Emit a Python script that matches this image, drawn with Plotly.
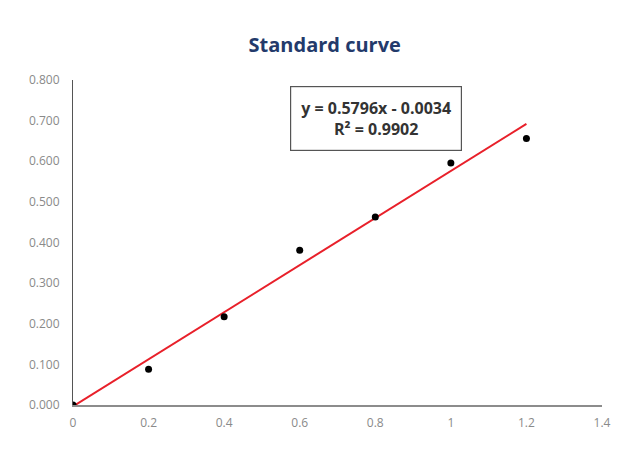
import plotly.graph_objects as go

concentration = [0, 0.2, 0.4, 0.6, 0.8, 1.0, 1.2]
absorbance = [0.000, 0.088, 0.217, 0.381, 0.463, 0.596, 0.656]
slope = 0.5796
intercept = -0.0034
x_ticks = [0, 0.2, 0.4, 0.6, 0.8, 1.0, 1.2, 1.4]
x_tick_labels = ["0", "0.2", "0.4", "0.6", "0.8", "1", "1.2", "1.4"]
y_ticks = [0, 0.1, 0.2, 0.3, 0.4, 0.5, 0.6, 0.7, 0.8]
y_tick_labels = ["0.000", "0.100", "0.200", "0.300", "0.400", "0.500", "0.600", "0.700", "0.800"]

fit_x = [concentration[0], concentration[-1]]
fit_y = [slope * v + intercept for v in fit_x]

fig = go.Figure()
fig.add_trace(go.Scatter(x=fit_x, y=fit_y, mode="lines",
                         line=dict(color="#E8202A", width=2), showlegend=False))
fig.add_trace(go.Scatter(x=concentration, y=absorbance, mode="markers",
                         marker=dict(color="black", size=7), showlegend=False))

fig.update_layout(
    width=636, height=449,
    margin=dict(l=65, r=42, t=72, b=52),
    paper_bgcolor="white", plot_bgcolor="white",
    title=dict(text="<b>Standard curve</b>", x=0.498, xanchor="center", y=0.918, yanchor="middle",
               font=dict(family="Open Sans", size=20, color="#233A6B")),
    xaxis=dict(range=[0, 1.4], tickvals=x_ticks, ticktext=x_tick_labels,
               showgrid=False, zeroline=False, showline=True, linecolor="#8C8C8C", linewidth=1.5,
               ticks="outside", ticklen=6, tickcolor="rgba(0,0,0,0)",
               tickfont=dict(family="Open Sans", size=12, color="#8A8A8A")),
    yaxis=dict(range=[0, 0.8], tickvals=y_ticks, ticktext=y_tick_labels,
               showgrid=False, zeroline=False, showline=True, linecolor="#555555", linewidth=1.2,
               ticks="outside", ticklen=10, tickcolor="rgba(0,0,0,0)",
               tickfont=dict(family="Open Sans", size=12, color="#8A8A8A")),
    annotations=[dict(
        x=0.802, y=0.706, xref="x", yref="y",
        text="<b>y = 0.5796x - 0.0034</b><br><b>R² = 0.9902</b>",
        showarrow=False, align="center",
        font=dict(family="Open Sans", size=16, color="#333333"),
        bordercolor="#555555", borderwidth=1.2, borderpad=10, bgcolor="white")]
)

fig.write_html("out.html")
